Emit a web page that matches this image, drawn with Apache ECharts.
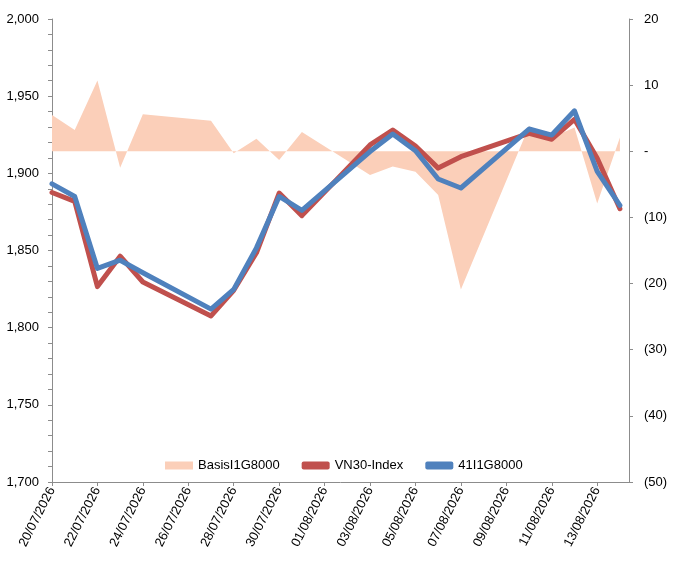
<!DOCTYPE html>
<html>
<head>
<meta charset="utf-8">
<title>VN30-Index / 41I1G8000</title>
<script src="https://cdn.jsdelivr.net/npm/echarts@6/dist/echarts.min.js"></script>
<style>
    html, body { margin: 0; padding: 0; background: #fff; }
    #basisChart { width: 674px; height: 563px; }
</style>
</head>
<body>
<div id="basisChart"></div>
<script>
// trading days
var tradeDates = ['20/07/2026', '21/07/2026', '22/07/2026', '23/07/2026', '24/07/2026',
    '27/07/2026', '28/07/2026', '29/07/2026', '30/07/2026', '31/07/2026',
    '03/08/2026', '04/08/2026', '05/08/2026', '06/08/2026', '07/08/2026',
    '10/08/2026', '11/08/2026', '12/08/2026', '13/08/2026', '14/08/2026'];
var vn30Index = [1887.6, 1881.8, 1826.6, 1846.3, 1829.6, 1807.6, 1824.2, 1848.5, 1887.2, 1872.6,
    1918.4, 1928.1, 1917.7, 1903.4, 1910.8, 1925.9, 1922.1, 1935.0, 1909.8, 1877.1];
var future41I1G8000 = [1893.2, 1885.0, 1838.4, 1843.7, 1835.6, 1812.0, 1824.8, 1851.7, 1885.0, 1876.0,
    1914.1, 1925.5, 1914.7, 1896.3, 1890.5, 1928.7, 1924.8, 1940.5, 1901.2, 1879.2];
var basisI1G8000 = [5.5, 3.2, 10.7, -2.5, 5.6, 4.6, -0.3, 1.9, -1.3, 2.9,
    -3.6, -2.3, -3.1, -6.6, -20.9, 3.8, 2.1, 3.6, -7.9, 2.1];
var xTickLabels = ['20/07/2026', '22/07/2026', '24/07/2026', '26/07/2026', '28/07/2026',
    '30/07/2026', '01/08/2026', '03/08/2026', '05/08/2026', '07/08/2026',
    '09/08/2026', '11/08/2026', '13/08/2026'];

var DAY_MS = 86400000;
var FONT = "'Liberation Sans', Arial, sans-serif";
var AXIS_GREY = '#8c8c8c';

/**
 * dd/mm/yyyy -> so ngay tinh tu ngay dau tien
 */
function dayOffset(text) {
    var p = text.split('/');
    var first = tradeDates[0].split('/');
    var t = Date.UTC(+p[2], +p[1] - 1, +p[0]);
    var t0 = Date.UTC(+first[2], +first[1] - 1, +first[0]);
    return Math.round((t - t0) / DAY_MS);
}

function toPoints(values) {
    var points = [];
    for (var i = 0; i < values.length; i++) {
        points.push([dayOffset(tradeDates[i]), values[i]]);
    }
    return points;
}

function thousands(v) {
    return String(v).replace(/\B(?=(\d{3})+(?!\d))/g, ',');
}

function accounting(v) {
    if (v === 0) return '-';
    if (v < 0) return '(' + Math.abs(v) + ')';
    return String(v);
}

function loadChart() {
    var myChart = echarts.init(document.getElementById('basisChart'));
    var tickValues = xTickLabels.map(dayOffset);
    var option = {
        animation: false,
        textStyle: { fontFamily: FONT },
        grid: { left: 52, right: 45, top: 19, bottom: 81 },
        legend: {
            left: 160,
            top: 454,
            itemGap: 22,
            itemWidth: 28,
            itemHeight: 8,
            textStyle: { fontFamily: FONT, fontSize: 13, color: '#000' },
            data: [
                { name: 'BasisI1G8000', icon: 'rect' },
                { name: 'VN30-Index', icon: 'roundRect', itemHeight: 6 },
                { name: '41I1G8000', icon: 'roundRect', itemHeight: 6 }
            ]
        },
        xAxis: {
            type: 'value',
            min: 0,
            max: 25.4,
            splitLine: { show: false },
            axisLine: { onZero: false, lineStyle: { color: AXIS_GREY } },
            axisTick: { show: true, length: 4, customValues: tickValues, lineStyle: { color: AXIS_GREY } },
            axisLabel: {
                customValues: tickValues,
                rotate: 63,
                margin: 6,
                fontSize: 13,
                color: '#000',
                fontFamily: FONT,
                formatter: function (v) {
                    var i = tickValues.indexOf(v);
                    return i >= 0 ? xTickLabels[i] : '';
                }
            }
        },
        yAxis: [{
            type: 'value',
            min: 1700,
            max: 2000,
            interval: 50,
            splitLine: { show: false },
            axisLine: { show: true, lineStyle: { color: AXIS_GREY } },
            axisTick: { show: true, length: 4, lineStyle: { color: AXIS_GREY } },
            minorTick: { show: true, splitNumber: 5, length: 4, lineStyle: { color: AXIS_GREY } },
            axisLabel: { fontSize: 13, color: '#000', margin: 13, fontFamily: FONT, formatter: thousands }
        }, {
            type: 'value',
            min: -50,
            max: 20,
            interval: 10,
            position: 'right',
            splitLine: { show: false },
            axisLine: { show: true, lineStyle: { color: AXIS_GREY } },
            axisTick: { show: true, length: 4, lineStyle: { color: AXIS_GREY } },
            axisLabel: { fontSize: 13, color: '#000', margin: 15, fontFamily: FONT, formatter: accounting }
        }],
        series: [{
            name: 'BasisI1G8000',
            type: 'line',
            yAxisIndex: 1,
            color: '#fbcfb9',
            data: toPoints(basisI1G8000),
            showSymbol: false,
            lineStyle: { width: 0 },
            areaStyle: { color: '#fbcfb9', opacity: 1, origin: 0 },
            z: 1
        }, {
            name: 'VN30-Index',
            type: 'line',
            color: '#c0504d',
            data: toPoints(vn30Index),
            showSymbol: false,
            lineStyle: { width: 5, color: '#c0504d', cap: 'round', join: 'round' },
            z: 2
        }, {
            name: '41I1G8000',
            type: 'line',
            color: '#4f81bd',
            data: toPoints(future41I1G8000),
            showSymbol: false,
            lineStyle: { width: 5, color: '#4f81bd', cap: 'round', join: 'round' },
            z: 3
        }]
    };
    if (option && typeof option === 'object') {
        myChart.setOption(option, true);
    }
}

loadChart();
</script>
</body>
</html>
